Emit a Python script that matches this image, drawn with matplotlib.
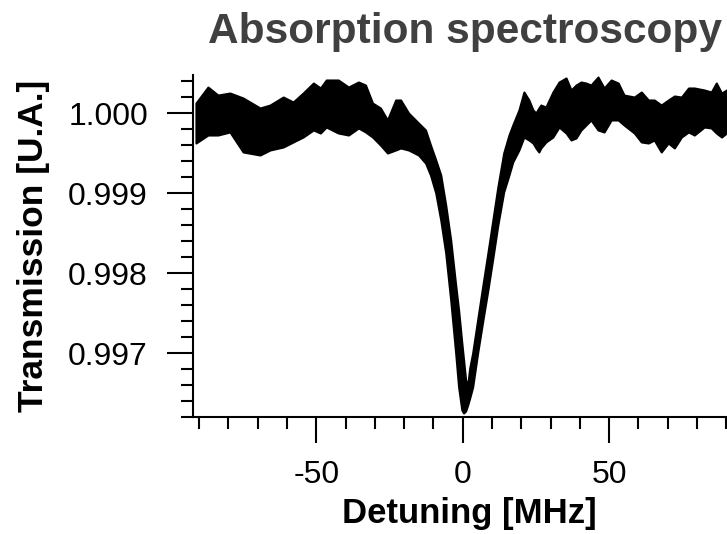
import numpy as np
import matplotlib
matplotlib.use("Agg")
from matplotlib import pyplot as plt
from matplotlib.ticker import MultipleLocator, FormatStrFormatter

# envelope of the noisy trace (MHz, transmission)
detuning = [-91.1, -87.0, -83.6, -79.5, -75.0, -69.2, -65.8, -61.3, -57.9, -54.5,
            -51.0, -48.6, -46.6, -42.5, -39.0, -35.6, -33.2, -30.8, -28.1, -25.7,
            -22.9, -21.2, -18.5, -15.1, -12.7, -11.0, -9.2, -7.5, -5.8, -4.1,
            -2.4, -1.4, -0.3, 0.3, 1.0, 1.7, 2.4, 3.4, 5.1, 6.8,
            8.6, 10.3, 12.0, 14.0, 15.8, 17.1, 19.2, 20.9, 22.6, 24.0,
            25.0, 26.0, 26.7, 28.4, 30.8, 32.9, 35.3, 37.0, 38.7, 40.4,
            42.1, 43.8, 46.2, 48.3, 50.7, 53.1, 55.1, 58.6, 61.0, 63.4,
            65.4, 67.8, 70.2, 72.3, 74.7, 77.1, 79.1, 82.5, 84.9, 86.6,
            88.4, 90.1, 95.2]
trans_hi = [1.000125, 1.000325, 1.000225, 1.000250, 1.000188, 1.000063, 1.000100, 1.000200, 1.000138, 1.000250,
            1.000375, 1.000313, 1.000413, 1.000413, 1.000325, 1.000388, 1.000350, 1.000125, 1.000063, 0.999913,
            1.000163, 1.000163, 1.000000, 0.999875, 0.999788, 0.999600, 0.999413, 0.999225, 0.998850, 0.998413,
            0.997850, 0.997538, 0.997125, 0.996913, 0.996663, 0.996600, 0.996813, 0.997000, 0.997413, 0.997825,
            0.998250, 0.998663, 0.999075, 0.999500, 0.999725, 0.999850, 1.000038, 1.000263, 1.000163, 1.000038,
            1.000000, 1.000063, 1.000100, 1.000075, 1.000263, 1.000388, 1.000438, 1.000288, 1.000350, 1.000388,
            1.000375, 1.000350, 1.000450, 1.000313, 1.000413, 1.000375, 1.000225, 1.000200, 1.000263, 1.000163,
            1.000163, 1.000100, 1.000163, 1.000213, 1.000200, 1.000313, 1.000313, 1.000288, 1.000263, 1.000375,
            1.000250, 1.000288, 1.000313]
trans_lo = [0.999625, 0.999725, 0.999725, 0.999763, 0.999513, 0.999475, 0.999538, 0.999575, 0.999638, 0.999700,
            0.999788, 0.999750, 0.999825, 0.999750, 0.999725, 0.999813, 0.999763, 0.999700, 0.999600, 0.999500,
            0.999538, 0.999563, 0.999538, 0.999475, 0.999375, 0.999225, 0.999000, 0.998663, 0.998250, 0.997663,
            0.997000, 0.996575, 0.996288, 0.996250, 0.996275, 0.996350, 0.996438, 0.996575, 0.997000, 0.997388,
            0.997788, 0.998188, 0.998600, 0.999013, 0.999225, 0.999388, 0.999538, 0.999700, 0.999663, 0.999625,
            0.999563, 0.999513, 0.999563, 0.999638, 0.999700, 0.999825, 0.999750, 0.999663, 0.999688, 0.999788,
            0.999850, 0.999913, 0.999788, 0.999763, 0.999913, 0.999913, 0.999850, 0.999750, 0.999638, 0.999625,
            0.999663, 0.999513, 0.999625, 0.999563, 0.999700, 0.999763, 0.999725, 0.999825, 0.999813, 0.999750,
            0.999700, 0.999750, 0.999788]

plt.rcParams['font.family'] = ['Liberation Sans', 'DejaVu Sans']
plt.rcParams['axes.unicode_minus'] = False

fig = plt.figure(figsize=(7.27, 5.34), dpi=100)
ax = fig.add_axes([0.2655, 0.2191, 0.7717, 0.6404])

ax.fill_between(detuning, trans_lo, trans_hi, color='black', lw=1.5)

ax.set_xlim(-92.1, 99.5)
ax.set_ylim(0.9962, 1.000475)

ax.spines['top'].set_visible(False)
ax.spines['right'].set_visible(False)
ax.spines['left'].set_linewidth(1.5)
ax.spines['bottom'].set_linewidth(1.5)

ax.xaxis.set_major_locator(MultipleLocator(50))
ax.xaxis.set_minor_locator(MultipleLocator(10))
ax.yaxis.set_major_locator(MultipleLocator(0.001))
ax.yaxis.set_minor_locator(MultipleLocator(0.0002))
ax.yaxis.set_major_formatter(FormatStrFormatter('%.3f'))
ax.tick_params(which='major', direction='out', length=18.5, width=1.5, labelsize=23, pad=14)
ax.tick_params(axis='x', which='major', pad=12.5)
ax.tick_params(which='minor', direction='out', length=8.5, width=1.5)

ax.set_xlabel('Detuning [MHz]', fontsize=25, fontweight='bold')
ax.xaxis.set_label_coords(0.492, -0.31)
ax.xaxis.label.set_va('baseline')
ax.set_ylabel('Transmission [U.A.]', fontsize=25.5, fontweight='bold')
ax.yaxis.set_label_coords(-0.255, 0.5)

fig.text(0.64, 0.9195, 'Absorption spectroscopy', fontsize=30.5, fontweight='bold',
         color='#404040', ha='center', va='baseline')

fig.savefig('out.png', dpi=100)
